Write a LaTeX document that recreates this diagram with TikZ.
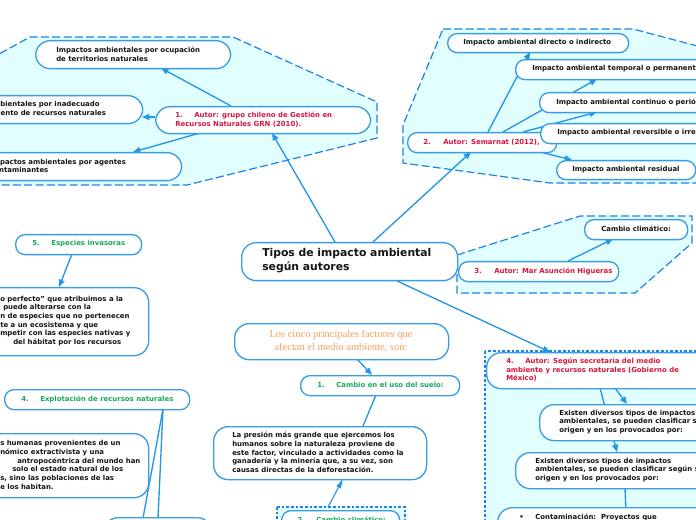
\documentclass[tikz,border=0pt]{standalone}
\usepackage{fontspec}
\setmainfont{DejaVu Sans}
\newfontfamily\serifo{Liberation Serif}
\usetikzlibrary{arrows.meta,calc}
\definecolor{bordc}{RGB}{58,156,226}
\definecolor{arrc}{RGB}{36,150,230}
\definecolor{dashc}{RGB}{30,130,230}
\definecolor{cyanf}{RGB}{226,255,255}
\definecolor{redt}{RGB}{214,20,62}
\definecolor{greent}{RGB}{24,168,92}
\definecolor{oranget}{RGB}{245,160,92}
\definecolor{inkc}{RGB}{20,20,20}
\pgfdeclarelayer{bgw}
\pgfdeclarelayer{poly}
\pgfdeclarelayer{lines}
\pgfsetlayers{bgw,poly,lines,main}
\tikzset{
  box/.style={draw=bordc, line width=1pt, fill=white, rounded corners=7pt, inner sep=0pt},
  txt/.style={inner sep=0pt, align=left, text=inkc, font=\fontsize{5.2pt}{6.5pt}\selectfont\bfseries},
  dashpoly/.style={draw=dashc, line width=0.9pt, fill=cyanf, dash pattern=on 6pt off 2.5pt},
  dotpoly/.style={draw=dashc, line width=0.9pt, fill=cyanf, dash pattern=on 2pt off 1.5pt},
  arr/.style={draw=arrc, line width=1pt, -{Triangle[length=5.5pt,width=4.5pt]}},
  ln/.style={draw=arrc, line width=1pt},
  redc/.style={text=redt},
  grnc/.style={text=greent}
}
\newcommand{\nm}[2]{\makebox[#1][l]{#2}}
% name, x1, y1, x2, y2, text x, options (text node), text
\newcommand{\bx}[8]{%
  \pgfmathsetmacro\bxw{(#4-#2)*0.75}%
  \pgfmathsetmacro\bxh{(#5-#3)*0.75}%
  \node[box, minimum width=\bxw pt, minimum height=\bxh pt, anchor=north west] (#1) at (#2,#3) {};%
  \node[txt, anchor=west, #7] (#1t) at (#6,{(#3+#5)/2}) {#8};}
\newcommand{\bxr}[8]{%
  \pgfmathsetmacro\bxw{(#4-#2)*0.75}%
  \pgfmathsetmacro\bxh{(#5-#3)*0.75}%
  \node[box, rounded corners=11pt, minimum width=\bxw pt, minimum height=\bxh pt, anchor=north west] (#1) at (#2,#3) {};%
  \node[txt, anchor=west, #7] (#1t) at (#6,{(#3+#5)/2}) {#8};}
\begin{document}
\begin{tikzpicture}[x=0.75pt,y=-0.75pt]
\useasboundingbox (0,0) rectangle (696,520);
\begin{pgfonlayer}{bgw}
\fill[white] (0,0) rectangle (696,520);
\end{pgfonlayer}
\begin{pgfonlayer}{poly}
\draw[dashpoly] (-30,70) -- (30,37) -- (233,37) -- (377,102) -- (377,138) -- (187,185) -- (-30,185) -- cycle;
\draw[dashpoly] (443,29) -- (633,29) -- (720,52) -- (720,183) -- (550,183) -- (403,163) -- (403,125) -- cycle;
\draw[dashpoly] (457,255) -- (580,216) -- (692,216) -- (692,243) -- (635,293) -- (457,293) -- cycle;
\draw[dotpoly] (485,351) rectangle (720,560);
\draw[dotpoly] (277,507) rectangle (405,560);
\end{pgfonlayer}
% cluster 1
\bxr{n1a}{35}{40}{230}{68}{56}{}{Impactos ambientales por ocupación\\de territorios naturales}
\bxr{n1b}{-70}{95}{142}{123}{-50}{}{Impactos ambientales por inadecuado\\aprovechamiento de recursos naturales}
\bxr{n1c}{-30}{152}{181}{180}{-10}{}{Impactos ambientales por agentes\\contaminantes}
\bxr{n1}{155}{106}{370}{133}{175}{redc}{\nm{14.25pt}{1.}Autor: grupo chileno de Gestión en\\Recursos Naturales GRN (2010).}
% cluster 2
\bx{d1}{447}{33}{628}{52}{463}{}{Impacto ambiental directo o indirecto}
\bx{d2}{515}{59}{740}{79}{532}{}{Impacto ambiental temporal o permanente}
\bx{d3}{539}{92}{760}{112}{556}{}{Impacto ambiental continuo o periódico}
\bx{n2}{407}{132}{556}{152}{423}{redc}{\nm{15pt}{2.}Autor: Semarnat (2012),}
\bx{d4}{540}{123}{770}{143}{557}{}{Impacto ambiental reversible o irreversible}
\bx{d5}{556}{160}{695}{179}{572}{}{Impacto ambiental residual}
% cluster 3
\bx{c1}{584}{219}{687}{239}{601}{}{Cambio climático:}
\bx{n3}{458}{261}{618}{281}{474}{redc}{\nm{15pt}{3.}Autor: Mar Asunción Higueras}
% title
\bxr{title}{241}{242}{457}{280}{262}{font=\fontsize{8.1pt}{10.5pt}\selectfont\bfseries}{Tipos de impacto ambiental\\según autores}
% cluster 4
\bxr{n4}{486}{352}{720}{388}{506}{redc}{\nm{14.25pt}{4.}Autor: Según secretaría del medio\\ambiente y recursos naturales (Gobierno de\\México)}
\bxr{e1}{539}{404}{760}{440}{559}{}{Existen diversos tipos de impactos\\ambientales, se pueden clasificar según su\\origen y en los provocados por:}
\bxr{e2}{515}{452}{740}{488}{535}{}{Existen diversos tipos de impactos\\ambientales, se pueden clasificar según su\\origen y en los provocados por:}
\node[box, rounded corners=11pt, minimum width=182pt, minimum height=40pt, anchor=north west] (e3) at (497,507) {};
\node[txt, anchor=west] (e3t) at (519,517) {\nm{12pt}{•}Contaminación:\ \ Proyectos que};
% left side
\bx{s5}{15}{234}{141}{254}{32}{grnc}{\nm{14.25pt}{5.}Especies invasoras}
\bxr{s5t}{-40}{287}{148}{355}{0}{}{o perfecto" que atribuimos a la\\\hspace*{2.25pt}puede alterarse con la\\n de especies que no pertenecen\\te a un ecosistema y que\\mpetir con las especies nativas y\\\hspace*{9.75pt}del hábitat por los recursos}
\bx{s4}{4}{389}{189}{409}{21}{grnc}{\nm{14.25pt}{4.}Explotación de recursos naturales}
\bxr{s4t}{-40}{433}{148}{497}{0}{}{s humanas provenientes de un\\nómico extractivista y una\\\hspace*{12.75pt}antropocéntrica del mundo han\\\hspace*{9pt}solo el estado natural de los\\s, sino las poblaciones de las\\e los habitan.}
\node[box, rounded corners=11pt, minimum width=81pt, minimum height=30pt, anchor=north west] (b1) at (103,517) {};
% middle
\node[box, rounded corners=11pt, minimum width=160.5pt, minimum height=27pt, anchor=north west] (lc) at (234,323) {};
\node[inner sep=0pt, align=center, text=oranget, font=\serifo\fontsize{7.85pt}{9.75pt}\selectfont] (lct) at (341,341.5) {Los cinco principales factores que\\afectan el medio ambiente, son:};
\bx{f1}{300}{375}{459}{395}{317}{grnc}{\nm{14.25pt}{1.}Cambio en el uso del suelo:}
\bxr{pr}{213}{426}{426}{479}{232}{}{La presión más grande que ejercemos los\\humanos sobre la naturaleza proviene de\\este factor, vinculado a actividades como la\\ganadería y la minería que, a su vez, son\\causas directas de la deforestación.}
\bx{f2}{281}{510}{399}{530}{297}{grnc}{\nm{14.25pt}{2.}Cambio climático:}
% connectors
\coordinate (q1) at (139,540);
\coordinate (q2) at (157,540);
\coordinate (q3) at (628,560);
\begin{pgfonlayer}{lines}
\draw[arr] ($(title.north west)+(94,0)$) -- ($(n1.north west)+(117,27)$);
\draw[arr] ($(title.north west)+(132,0)$) -- ($(n2.north west)+(64,20)$);
\draw[arr] ($(title.north west)+(156,39)$) -- ($(n4.north west)+(64,0)$);
\draw[arr] ($(n1.north west)+(76,0)$) -- ($(n1a.north west)+(126,28)$);
\draw[arr] ($(n1.north west)+(0,11)$) -- ($(n1b.north west)+(212,22)$);
\draw[arr] ($(n1.north west)+(45,27)$) -- ($(n1c.north west)+(163,0)$);
\draw[arr] ($(n2.north west)+(81,0)$) -- ($(d1.north west)+(83,19)$);
\draw[arr] ($(n2.north west)+(96,0)$) -- ($(d2.north west)+(82,20)$);
\draw[arr] ($(n2.north west)+(116,0)$) -- ($(d3.north west)+(58,20)$);
\draw[arr] ($(n2.north west)+(133,20)$) -- ($(d5.north west)+(16,0)$);
\draw[arr] ($(n3.north west)+(110,0)$) -- ($(c1.north west)+(29,20)$);
\draw[arr] ($(n4.north west)+(129,36)$) -- ($(e1.north west)+(88,0)$);
\draw[arr] ($(n4.north west)+(114,36)$) -- ($(e2.north west)+(102,0)$);
\draw[ln] ($(e2.north west)+(110,36)$) -- (q3);
\draw[arr] ($(s5.north west)+(57,20)$) -- ($(s5t.north west)+(99,0)$);
\draw[ln] ($(s4.north west)+(159,20)$) -- (q1);
\draw[ln] ($(s4.north west)+(159,20)$) -- (q2);
\draw[arr] ($(lc.north west)+(123,36)$) -- ($(f1.north west)+(72,0)$);
\draw[ln] ($(f1.north west)+(76,20)$) -- ($(pr.north west)+(150,0)$);
\draw[draw=arrc, line width=0.8pt, -{Triangle[length=7pt,width=3.5pt]}] ($(f2.north west)+(47,-3)$) -- ($(pr.north west)+(130,53)$);
\end{pgfonlayer}
\end{tikzpicture}
\end{document}
